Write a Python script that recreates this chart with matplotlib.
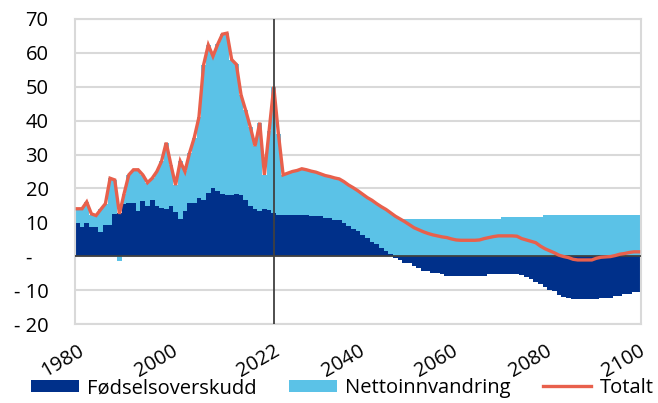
import matplotlib
matplotlib.use("Agg")
import matplotlib.pyplot as plt
import numpy as np
from matplotlib.patches import Patch
from matplotlib.lines import Line2D

plt.rcParams['font.family'] = ['Open Sans', 'DejaVu Sans']

years = np.arange(1980, 2101)

# Fødselsoverskudd (1000)
fods = [
    9.9, 8.7, 9.9, 8.7, 8.7, 7.0, 9.1, 9.1, 12.4, 12.8,            # 1980-
    15.3, 15.6, 15.6, 13.3, 16.3, 14.8, 16.6, 14.8, 14.1, 13.8,     # 1990-
    14.8, 12.9, 11.1, 13.3, 15.6, 15.6, 17.3, 16.6, 18.7, 20.2,     # 2000-
    19.2, 18.5, 18.2, 18.2, 18.5, 18.2, 16.6, 14.8, 13.8, 13.3,     # 2010-
    14.0, 13.5, 12.8, 12.3, 12.3, 12.3, 12.3, 12.3, 12.3, 12.3,     # 2020-
    11.9, 11.9, 11.9, 11.2, 11.2, 10.6, 10.6, 9.9, 8.9, 8.1,        # 2030-
    7.5, 6.2, 5.5, 4.2, 3.5, 2.5, 1.6, 0.6, -0.4, -1.0,             # 2040-
    -1.9, -1.9, -2.8, -3.6, -4.3, -4.3, -5.0, -5.0, -5.3, -5.8,     # 2050-
    -5.8, -5.8, -5.8, -5.8, -5.8, -5.8, -5.8, -5.8, -5.3, -5.3,     # 2060-
    -5.3, -5.3, -5.3, -5.3, -5.3, -5.5, -6.0, -6.8, -7.5, -8.3,     # 2070-
    -9.2, -10.0, -10.4, -11.3, -11.9, -12.2, -12.6, -12.6, -12.6, -12.6,  # 2080-
    -12.6, -12.6, -12.2, -12.2, -12.2, -11.7, -11.7, -11.2, -11.2, -10.5,  # 2090-
    -10.5,                                                           # 2100
]

# Nettoinnvandring (1000)
netto = [
    4.1, 5.3, 6.1, 3.6, 3.3, 6.8, 6.4, 13.9, 10.1, -1.5,
    3.2, 8.4, 9.9, 12.2, 7.7, 6.9, 6.4, 10.2, 13.9, 19.7,
    12.2, 8.1, 16.9, 11.7, 14.9, 19.4, 23.7, 39.9, 43.6, 38.8,
    43.3, 47.0, 47.6, 39.8, 38.1, 29.4, 26.4, 23.2, 18.7, 26.1,
    10.0, 23.5, 37.2, 23.7, 11.7, 12.2, 12.7, 13.0, 13.5, 13.2,
    13.2, 12.9, 12.4, 12.6, 12.3, 12.5, 12.2, 12.1, 12.1, 12.1,
    11.8, 12.1, 11.8, 12.3, 12.0, 12.1, 12.2, 12.2, 11.8, 11.4,
    11.1, 11.1, 11.1, 11.1, 11.1, 11.1, 11.1, 11.1, 11.1, 11.1,
    11.1, 11.1, 11.1, 11.1, 11.1, 11.1, 11.1, 11.1, 11.1, 11.1,
    11.1, 11.7, 11.7, 11.7, 11.7, 11.7, 11.7, 11.7, 11.7, 11.7,
    12.3, 12.3, 12.3, 12.3, 12.3, 12.3, 12.3, 12.3, 12.3, 12.3,
    12.3, 12.3, 12.3, 12.3, 12.3, 12.3, 12.3, 12.3, 12.3, 12.3,
    12.3,
]

# Totalt (1000)
totalt = [
    14.0, 14.0, 16.0, 12.5, 12.0, 13.8, 15.5, 23.0, 22.5, 12.5,
    18.5, 24.0, 25.5, 25.5, 24.0, 21.7, 23.0, 25.0, 28.0, 33.5,
    27.0, 21.0, 28.0, 25.0, 30.5, 35.0, 41.0, 56.5, 62.3, 59.0,
    62.5, 65.5, 65.8, 58.0, 56.6, 47.6, 43.0, 38.0, 32.5, 39.4,
    24.0, 37.0, 50.0, 36.0, 24.0, 24.5, 25.0, 25.3, 25.8, 25.5,
    25.1, 24.8, 24.3, 23.8, 23.5, 23.1, 22.8, 22.0, 21.0, 20.2,
    19.3, 18.3, 17.3, 16.5, 15.5, 14.6, 13.8, 12.8, 11.8, 11.0,
    10.2, 9.3, 8.4, 7.8, 7.2, 6.7, 6.3, 6.0, 5.7, 5.5,
    5.1, 4.8, 4.7, 4.7, 4.7, 4.7, 4.8, 5.2, 5.5, 5.8,
    6.0, 6.0, 6.0, 6.0, 5.9, 5.2, 4.8, 4.4, 4.0, 3.0,
    2.2, 1.6, 1.0, 0.3, -0.1, -0.4, -0.9, -1.1, -1.1, -1.1,
    -1.1, -0.6, -0.3, -0.2, -0.1, 0.2, 0.6, 0.8, 1.1, 1.3,
    1.3,
]

xticks = [1980, 2000, 2022, 2040, 2060, 2080, 2100]
yticks = [-20, -10, 0, 10, 20, 30, 40, 50, 60, 70]
ylabels = ['- 20', '- 10', '-   ', '10', '20', '30', '40', '50', '60', '70']

DARK = '#00308a'
LIGHT = '#5bc2e7'
RED = '#e8604c'
GRID = '#d9d9d9'

fods = np.array(fods)
netto = np.array(netto)

fig = plt.figure(figsize=(6.58, 4.03), dpi=100)
ax = fig.add_axes([0.114, 0.196, 0.86, 0.757])

# stacked bars, positive and negative parts stacked separately (Excel style)
pos_base = np.where(fods > 0, fods, 0)
neg_base = np.where(fods < 0, fods, 0)
innv_base = np.where(netto >= 0, pos_base, neg_base)

ax.bar(years, fods, width=1.0, color=DARK, linewidth=0, zorder=2)
ax.bar(years, netto, bottom=innv_base, width=1.0, color=LIGHT, linewidth=0, zorder=2)
ax.plot(years, totalt, color=RED, linewidth=2.4, zorder=4, solid_joinstyle='miter')

ax.axhline(0, color='#404040', linewidth=1.3, zorder=3)
ax.axvline(2022, color='#404040', linewidth=1.3, zorder=5)

ax.set_xlim(1979.5, 2100.5)
ax.set_ylim(-20, 70)
ax.set_yticks(yticks)
ax.set_yticklabels(ylabels)
ax.set_xticks(xticks)
ax.set_xticklabels([str(x) for x in xticks], rotation=30, ha='right',
                   va='top', rotation_mode='anchor')
ax.tick_params(axis='both', length=0, labelsize=14.5, colors='black')
ax.tick_params(axis='y', pad=19)
ax.tick_params(axis='x', pad=12)

ax.grid(axis='y', color=GRID, linewidth=1.5, zorder=0)
ax.set_axisbelow(True)
for s in ax.spines.values():
    s.set_color(GRID)
    s.set_linewidth(1.5)

handles = [
    Patch(facecolor=DARK, edgecolor='none'),
    Patch(facecolor=LIGHT, edgecolor='none'),
    Line2D([0], [0], color=RED, linewidth=2.4),
]
fig.legend(handles, ['Fødselsoverskudd', 'Nettoinnvandring', 'Totalt'],
           loc='center', bbox_to_anchor=(0.52, 0.037), ncol=3, frameon=False,
           fontsize=14.5, handlelength=2.4, handleheight=0.6, handletextpad=0.4,
           columnspacing=1.6, borderaxespad=0)

fig.savefig('out.png', dpi=100)
